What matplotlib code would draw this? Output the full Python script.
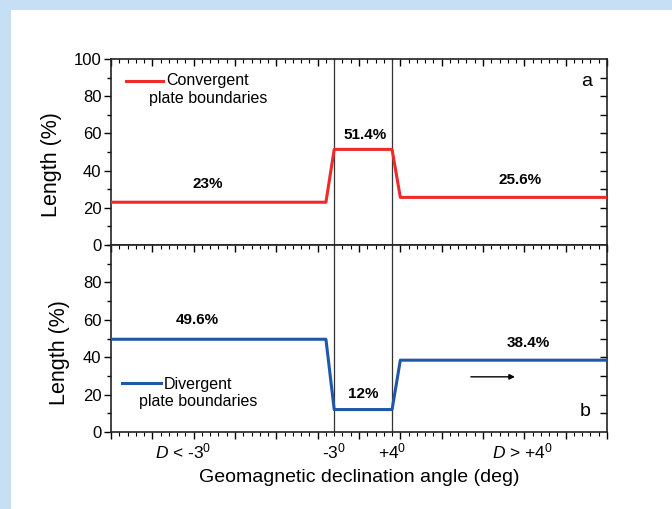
import numpy as np
import matplotlib.pyplot as plt
from matplotlib.ticker import MultipleLocator

# 折れ線のデータ（偏角 D と長さの割合）
x_pts = [-30, -4, -3, 4, 5, 30]
conv_pct = [23, 23, 51.4, 51.4, 25.6, 25.6]
div_pct = [49.6, 49.6, 12, 12, 38.4, 38.4]

conv_labels = ["23%", "51.4%", "25.6%"]
conv_label_x = [-18.3, 0.7, 19.5]
conv_label_y = [33, 59, 35]
div_labels = ["49.6%", "12%", "38.4%"]
div_label_x = [-19.5, 0.5, 20.5]
div_label_y = [60, 20.5, 47.5]

bound_x = [-3, 4]
region_ticks = [-21.3, -3, 4, 19.7]
region_labels = [r"$D$ < -3$^0$", r"-3$^0$", r"+4$^0$", r"$D$ > +4$^0$"]

red = "#ee2a2a"
blue = "#2156a8"
bg = "#c7dff4"

plt.rcParams["font.family"] = ["Liberation Sans", "DejaVu Sans"]
plt.rcParams["mathtext.fontset"] = "custom"
plt.rcParams["mathtext.rm"] = "Liberation Sans"
plt.rcParams["mathtext.it"] = "Liberation Sans:italic"

fig = plt.figure(figsize=(6.72, 5.09), dpi=100, facecolor=bg)
# 白い背景パネル
fig.patches.append(plt.Rectangle((11 / 672, 0), 1, 1 - 10 / 509, transform=fig.transFigure,
                                 facecolor="white", edgecolor="none", zorder=-10))

left, right = 111 / 672, 607 / 672
y_top0, y_top1 = 1 - 245 / 509, 1 - 59 / 509
y_bot0, y_bot1 = 1 - 432 / 509, 1 - 245 / 509
ax1 = fig.add_axes([left, y_top0, right - left, y_top1 - y_top0])
ax2 = fig.add_axes([left, y_bot0, right - left, y_bot1 - y_bot0])


def style_axes(ax, ylim_top, yticks):
    ax.set_xlim(-30, 30)
    ax.set_ylim(0, ylim_top)
    ax.xaxis.set_major_locator(MultipleLocator(5))
    ax.xaxis.set_minor_locator(MultipleLocator(1))
    ax.set_yticks(yticks)
    ax.yaxis.set_minor_locator(MultipleLocator(10))
    ax.tick_params(axis="y", which="major", direction="out", length=5, width=1,
                   labelsize=12, pad=2, right=False)
    ax.tick_params(axis="y", which="minor", direction="out", length=3, width=1, right=False)
    for s in ax.spines.values():
        s.set_linewidth(1.2)
        s.set_color("#222222")
    # 右側の目盛り（内向き）
    sec = ax.secondary_yaxis("right")
    sec.set_yticks(np.arange(10, ylim_top, 10))
    sec.tick_params(direction="in", length=5, width=1, labelright=False)
    sec.spines["right"].set_visible(False)
    # 上側の目盛り（内向き）
    top = ax.secondary_xaxis("top")
    top.xaxis.set_major_locator(MultipleLocator(5))
    top.xaxis.set_minor_locator(MultipleLocator(1))
    top.tick_params(which="major", direction="in", length=5, width=1, labeltop=False)
    top.tick_params(which="minor", direction="in", length=3, width=0.8)
    top.spines["top"].set_visible(False)
    for bx in bound_x:
        ax.axvline(bx, color="#333333", lw=0.9, zorder=1)


style_axes(ax1, 100, [0, 20, 40, 60, 80, 100])
style_axes(ax2, 100, [0, 20, 40, 60, 80])

ax1.tick_params(axis="x", which="both", bottom=False, labelbottom=False)
ax2.tick_params(axis="x", which="major", direction="out", length=5, width=1, labelbottom=False)
ax2.tick_params(axis="x", which="minor", direction="out", length=3, width=0.8)

ax1.plot(x_pts, conv_pct, color=red, lw=2.2, zorder=3)
ax2.plot(x_pts, div_pct, color=blue, lw=2.2, zorder=3)

for t, xx, yy in zip(conv_labels, conv_label_x, conv_label_y):
    ax1.text(xx, yy, t, ha="center", va="center", fontsize=11, fontweight="bold")
for t, xx, yy in zip(div_labels, div_label_x, div_label_y):
    ax2.text(xx, yy, t, ha="center", va="center", fontsize=11, fontweight="bold")

# 凡例（手描き）
ax1.plot([-28.2, -23.7], [88, 88], color=red, lw=2.2)
ax1.text(-18.3, 83.5, "Convergent\nplate boundaries", ha="center", va="center",
         fontsize=11.5, linespacing=1.2)
ax2.plot([-28.7, -24], [26, 26], color=blue, lw=2.2)
ax2.text(-19.5, 21, "Divergent\nplate boundaries", ha="center", va="center",
         fontsize=11.5, linespacing=1.2)

ax1.text(27.5, 88, "a", ha="center", va="center", fontsize=14)
ax2.text(27.3, 10.7, "b", ha="center", va="center", fontsize=14)

ax2.annotate("", xy=(19.2, 29.5), xytext=(13.2, 29.5),
             arrowprops=dict(arrowstyle="-|>", color="black", lw=1, mutation_scale=8))

for t, xx in zip(region_labels, region_ticks):
    ax2.text(xx, -5, t, ha="center", va="top", fontsize=12.5)

# 縦軸ラベル（少し下寄せ）
fig.text(52 / 672, 1 - 165 / 509, "Length (%)", rotation=90, ha="center", va="center",
         fontsize=15.5)
fig.text(60 / 672, 1 - 353 / 509, "Length (%)", rotation=90, ha="center", va="center",
         fontsize=15.5)
fig.text((left + right) / 2, 1 - 478 / 509, "Geomagnetic declination angle (deg)",
         ha="center", va="center", fontsize=14)

fig.savefig("out.png", dpi=100, facecolor=bg)
